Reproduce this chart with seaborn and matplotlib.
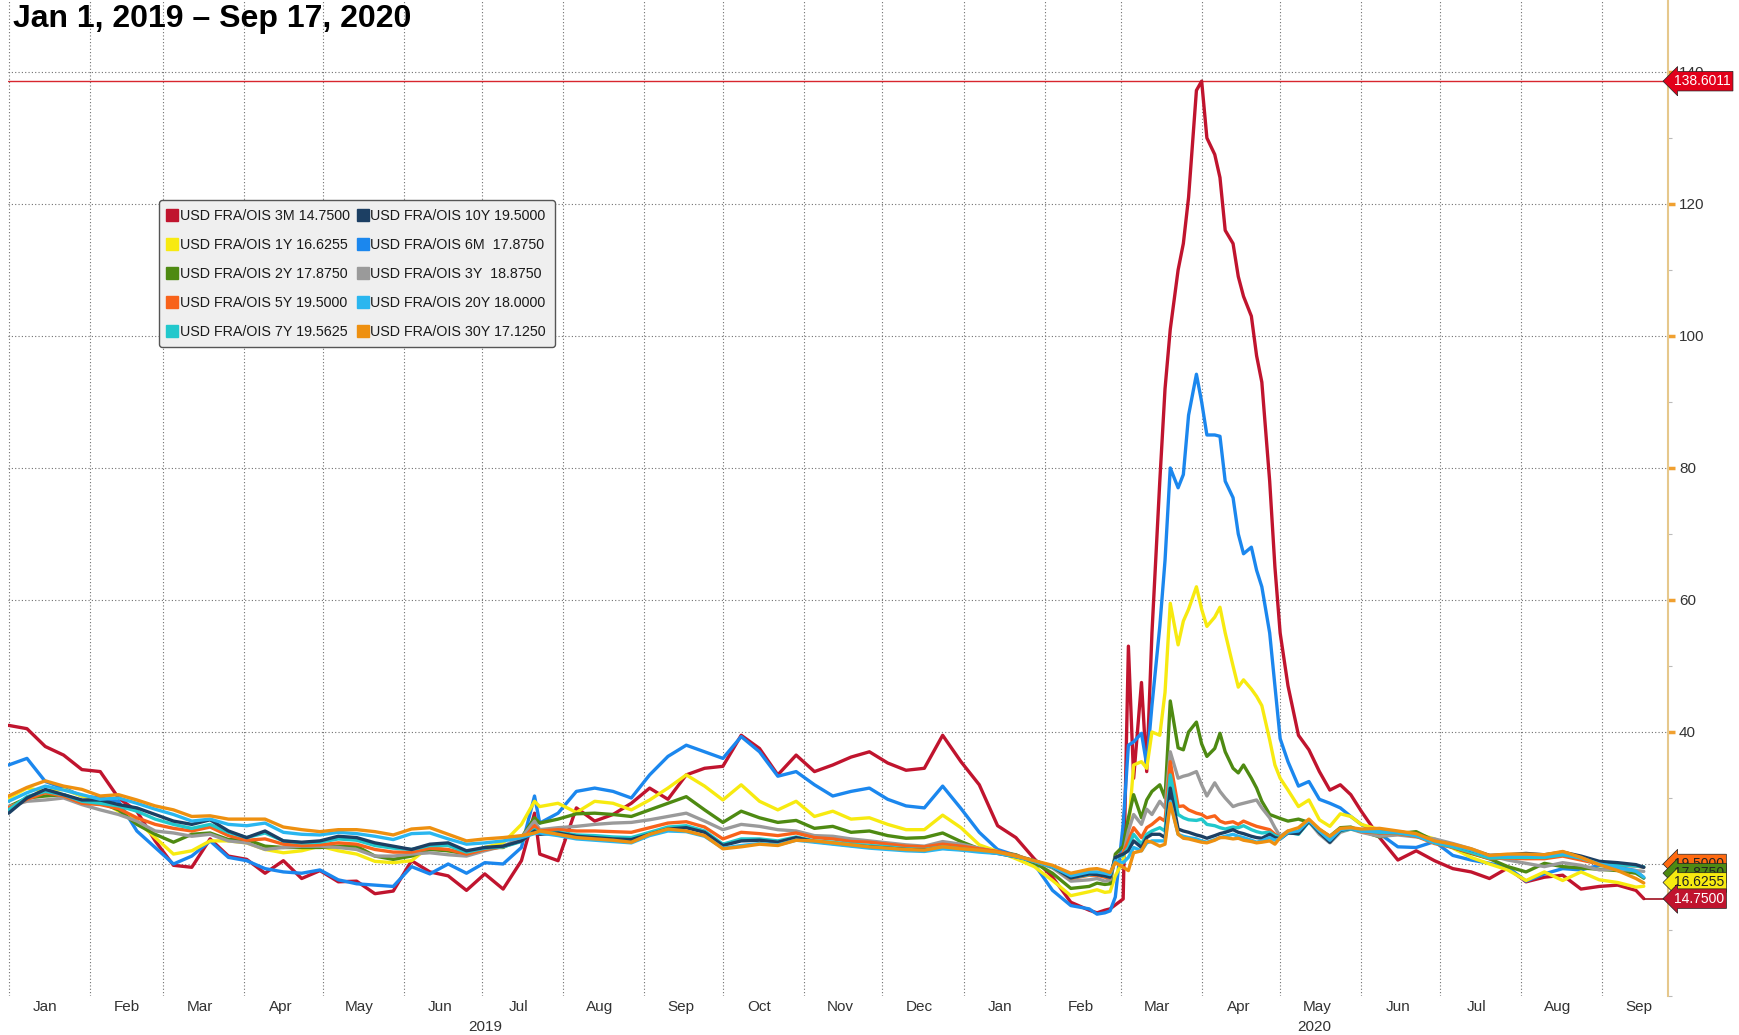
import matplotlib
matplotlib.use("Agg")
import matplotlib.dates as mdates
import matplotlib.pyplot as plt
import matplotlib.transforms as mtransforms
import pandas as pd
import seaborn as sns
from matplotlib.lines import Line2D

# sample dates (weekly, denser around the March 2020 spike)
DATES = [
    "2019-01-01", "2019-01-08", "2019-01-15", "2019-01-22", "2019-01-29",
    "2019-02-05", "2019-02-12", "2019-02-19", "2019-02-26",
    "2019-03-05", "2019-03-12", "2019-03-19", "2019-03-26",
    "2019-04-02", "2019-04-09", "2019-04-16", "2019-04-23", "2019-04-30",
    "2019-05-07", "2019-05-14", "2019-05-21", "2019-05-28",
    "2019-06-04", "2019-06-11", "2019-06-18", "2019-06-25",
    "2019-07-02", "2019-07-09", "2019-07-16", "2019-07-21", "2019-07-23", "2019-07-30",
    "2019-08-06", "2019-08-13", "2019-08-20", "2019-08-27",
    "2019-09-03", "2019-09-10", "2019-09-17", "2019-09-24",
    "2019-10-01", "2019-10-08", "2019-10-15", "2019-10-22", "2019-10-29",
    "2019-11-05", "2019-11-12", "2019-11-19", "2019-11-26",
    "2019-12-03", "2019-12-10", "2019-12-17", "2019-12-24", "2019-12-31",
    "2020-01-07", "2020-01-14", "2020-01-21", "2020-01-28",
    "2020-02-04", "2020-02-11", "2020-02-18",
    "2020-02-21", "2020-02-24", "2020-02-26", "2020-02-28",
    "2020-03-02", "2020-03-04", "2020-03-06", "2020-03-09", "2020-03-11", "2020-03-13",
    "2020-03-16", "2020-03-18", "2020-03-20", "2020-03-23", "2020-03-25", "2020-03-27", "2020-03-30",
    "2020-04-01", "2020-04-03", "2020-04-06", "2020-04-08", "2020-04-10", "2020-04-13",
    "2020-04-15", "2020-04-17", "2020-04-20", "2020-04-22", "2020-04-24", "2020-04-27", "2020-04-29",
    "2020-05-01", "2020-05-04", "2020-05-08", "2020-05-12", "2020-05-16", "2020-05-20",
    "2020-05-24", "2020-05-28",
    "2020-06-01", "2020-06-08", "2020-06-15", "2020-06-22", "2020-06-29",
    "2020-07-06", "2020-07-13", "2020-07-20", "2020-07-27",
    "2020-08-03", "2020-08-10", "2020-08-17", "2020-08-24", "2020-08-31",
    "2020-09-07", "2020-09-14", "2020-09-17",
]

FRA_3M = [
    41.0, 40.5, 37.8, 36.5, 34.3,
    34.0, 30.0, 28.0, 23.5,
    19.8, 19.5, 23.8, 21.2,
    20.7, 18.6, 20.5, 17.8, 19.0,
    17.3, 17.4, 15.5, 15.9,
    20.5, 18.8, 18.2, 16.0,
    18.5, 16.2, 20.5, 27.7, 21.5, 20.5,
    28.5, 26.5, 27.5, 29.2,
    31.5, 29.8, 33.5, 34.5,
    34.8, 39.5, 37.5, 33.5, 36.5,
    34.0, 35.0, 36.2, 37.0,
    35.3, 34.2, 34.5, 39.5, 35.5,
    32.0, 25.8, 24.0, 20.8,
    18.0, 14.2, 13.0,
    12.6, 13.0, 13.2, 13.8,
    14.7, 53.0, 33.0, 47.5, 34.0, 55.0, 78.0, 92.0, 101.0, 110.0, 114.0, 121.0, 137.2,
    138.6011, 130.0, 127.5, 124.0, 116.0, 114.0, 109.0, 106.0, 103.0, 97.0, 93.0, 78.0, 65.0,
    55.0, 47.0, 39.5, 37.3, 34.0, 31.2, 32.0, 30.5,
    28.0, 24.0, 20.6, 22.0, 20.5, 19.3, 18.8, 17.8, 19.4,
    17.3, 18.0, 18.3, 16.2, 16.6, 16.8, 16.0, 14.75,
]

FRA_6M = [
    35.0, 36.0, 32.5, 31.5, 30.3,
    30.0, 29.5, 25.0, 22.5,
    20.0, 21.2, 23.5, 21.0,
    20.5, 19.3, 18.8, 18.6, 19.1,
    17.6, 17.0, 16.8, 16.6,
    19.6, 18.5, 20.0, 18.6,
    20.2, 20.0, 22.5, 30.3, 26.2, 27.7,
    31.0, 31.5, 31.0, 30.0,
    33.5, 36.3, 38.0, 37.0,
    36.0, 39.3, 37.0, 33.3, 34.0,
    32.0, 30.3, 31.0, 31.5,
    29.8, 28.8, 28.5, 31.8, 28.4,
    24.8, 22.2, 21.3, 20.0,
    16.0, 13.7, 13.2,
    12.4, 12.6, 12.9, 15.0,
    26.0, 38.0, 38.5, 39.8, 35.0, 44.0, 56.0, 66.0, 80.0, 77.0, 79.0, 88.0, 94.2,
    90.0, 85.0, 85.0, 84.8, 78.0, 75.5, 70.0, 67.0, 68.0, 64.5, 62.0, 55.0, 47.0,
    39.0, 35.5, 31.8, 32.5, 29.8, 29.2, 28.5, 27.2,
    26.0, 24.6, 22.6, 22.5, 23.4, 21.3, 20.6, 20.1, 19.5,
    17.4, 18.5, 19.3, 19.1, 19.8, 19.5, 19.0, 17.875,
]

FRA_1Y = [
    30.0, 31.5, 31.0, 31.3, 30.3,
    29.7, 28.0, 26.5, 24.0,
    21.5, 22.0, 23.5, 23.5,
    23.2, 22.2, 21.7, 22.0, 22.7,
    22.0, 21.5, 20.4, 20.2,
    20.5, 22.7, 22.0, 21.7,
    22.5, 23.2, 26.0, 29.5, 28.7, 29.2,
    27.8, 29.5, 29.2, 28.2,
    29.7, 31.5, 33.5, 31.8,
    29.7, 32.0, 29.5, 28.2, 29.5,
    27.2, 28.0, 26.8, 27.0,
    26.0, 25.2, 25.2, 27.4, 25.5,
    22.9, 21.9, 20.8, 19.6,
    17.5, 15.2, 15.8,
    16.1, 15.7, 15.8, 18.2,
    20.5, 25.0, 35.0, 35.5, 34.5, 40.0, 39.5, 46.0, 59.5, 53.2, 56.8, 58.6, 62.0,
    58.6, 56.0, 57.4, 58.9, 55.0, 50.0, 46.8, 47.9, 46.5, 45.4, 44.0, 38.8, 35.0,
    33.0, 31.2, 28.7, 29.7, 26.7, 25.7, 27.6, 27.2,
    26.0, 25.2, 24.8, 24.6, 23.8, 22.4, 21.0, 20.0, 19.1,
    17.5, 18.8, 17.5, 18.8, 17.6, 17.2, 16.5, 16.6255,
]

FRA_2Y = [
    28.7, 30.0, 30.3, 30.5, 29.5,
    29.3, 28.2, 26.0, 24.5,
    23.3, 24.5, 24.7, 23.7,
    23.7, 22.7, 22.5, 22.5, 22.5,
    22.7, 22.7, 21.2, 20.7,
    21.2, 22.2, 22.0, 21.5,
    22.5, 22.5, 24.0, 27.0, 26.2, 26.8,
    27.6, 27.7, 27.5, 27.2,
    28.2, 29.2, 30.2, 28.2,
    26.3, 28.0, 27.0, 26.3, 26.6,
    25.4, 25.7, 24.8, 25.0,
    24.3, 23.9, 24.0, 24.7, 23.4,
    22.3, 21.8, 21.4, 20.2,
    18.6, 16.3, 16.6,
    17.1, 16.9, 17.0, 21.5,
    22.7, 27.0, 30.5, 27.0, 29.7, 31.0, 32.0, 30.0, 44.7, 37.6, 37.3, 40.0, 41.5,
    38.2, 36.3, 37.5, 39.8, 37.0, 34.5, 33.8, 35.0, 33.0, 31.5, 29.5, 27.5, 27.2,
    26.9, 26.5, 26.8, 26.3, 25.2, 24.2, 25.5, 25.6,
    25.0, 24.1, 24.6, 24.9, 23.5, 22.5, 21.6, 20.8, 19.6,
    18.8, 20.1, 19.6, 19.4, 19.2, 19.0, 18.6, 17.875,
]

FRA_3Y = [
    28.7, 29.5, 29.7, 30.0, 29.0,
    28.2, 27.5, 26.5, 25.0,
    24.7, 24.2, 24.5, 23.5,
    23.2, 22.2, 22.5, 22.7, 22.7,
    22.5, 22.2, 21.2, 21.2,
    21.5, 21.7, 21.4, 21.2,
    22.0, 22.7, 24.0, 26.5, 25.2, 25.5,
    25.7, 26.0, 26.2, 26.3,
    26.7, 27.2, 27.7, 26.5,
    25.2, 26.0, 25.7, 25.2, 25.0,
    24.3, 24.2, 23.8, 23.5,
    23.2, 22.9, 22.7, 23.4, 23.0,
    22.4, 21.8, 21.3, 20.4,
    19.4, 17.4, 17.6,
    17.8, 17.4, 17.6, 21.0,
    21.3, 25.0, 27.5, 26.0, 28.3, 27.5, 29.5, 28.5, 37.0, 33.0, 33.3, 33.5, 34.0,
    32.0, 30.3, 32.3, 31.0, 30.0, 28.7, 29.0, 29.2, 29.5, 29.7, 28.5, 27.0, 25.5,
    24.2, 25.0, 24.8, 26.4, 24.5, 23.2, 24.8, 25.3,
    24.8, 24.2, 24.4, 24.1, 23.8, 23.1, 22.3, 21.3, 20.6,
    20.1, 19.6, 20.2, 19.8, 19.1, 19.2, 19.0, 18.875,
]

FRA_5Y = [
    28.5, 29.8, 30.8, 30.3, 29.2,
    29.0, 28.4, 27.0, 26.0,
    25.4, 25.0, 25.6, 24.3,
    23.6, 23.8, 23.0, 22.8, 22.9,
    23.2, 23.0, 22.2, 21.8,
    21.8, 22.4, 22.2, 21.5,
    22.2, 22.6, 23.5, 25.8, 25.0, 25.2,
    25.0, 25.0, 24.9, 24.8,
    25.5, 26.2, 26.4, 25.6,
    23.8, 24.8, 24.6, 24.3, 24.7,
    24.0, 23.8, 23.4, 23.3,
    23.0, 22.7, 22.6, 23.0, 22.7,
    22.3, 21.9, 21.3, 20.5,
    19.5, 17.8, 18.3,
    18.3, 18.0, 17.9, 21.0,
    21.6, 23.5, 25.5, 24.0, 25.5, 26.0, 27.0, 26.5, 35.5, 28.7, 28.8, 28.2, 27.7,
    27.5, 27.0, 27.3, 26.5, 26.2, 26.4, 26.0, 26.5, 26.0, 25.7, 25.5, 25.2, 24.5,
    24.0, 24.9, 24.6, 26.5, 24.8, 23.5, 25.0, 25.4,
    24.9, 24.7, 24.6, 24.2, 23.1, 22.5, 21.7, 20.8, 20.9,
    20.8, 20.8, 21.2, 20.6, 20.0, 19.8, 19.7, 19.5,
]

FRA_7Y = [
    28.2, 30.2, 31.0, 30.5, 29.5,
    29.2, 28.8, 28.0, 26.8,
    26.0, 25.4, 26.0, 24.8,
    24.0, 24.7, 23.5, 23.2, 23.3,
    23.8, 23.6, 22.8, 22.4,
    22.2, 22.8, 22.8, 21.8,
    22.4, 22.6, 23.4, 25.2, 24.6, 24.8,
    24.4, 24.3, 24.1, 24.0,
    24.8, 25.6, 25.8, 25.0,
    23.0, 23.8, 23.8, 23.5, 24.1,
    23.5, 23.3, 23.0, 22.8,
    22.6, 22.3, 22.2, 22.6, 22.3,
    22.0, 21.7, 21.2, 20.5,
    19.5, 17.9, 18.4,
    18.5, 18.2, 18.0, 21.0,
    21.3, 22.5, 24.5, 23.0, 24.5, 25.0, 25.5, 25.0, 33.5, 27.5, 27.0, 26.7, 26.6,
    26.8, 26.0, 25.8, 25.5, 25.3, 25.6, 25.5, 25.8, 25.2, 24.9, 24.7, 24.8, 24.3,
    24.0, 24.8, 24.5, 26.4, 24.8, 23.4, 25.0, 25.3,
    25.0, 24.8, 24.7, 24.3, 23.2, 22.6, 21.8, 20.9, 21.0,
    21.0, 21.0, 21.4, 20.9, 20.1, 19.9, 19.7, 19.5625,
]

FRA_10Y = [
    27.7, 30.0, 31.3, 30.5, 29.7,
    29.7, 29.0, 28.5, 27.5,
    26.5, 26.0, 26.7, 25.0,
    24.0, 25.0, 23.5, 23.3, 23.5,
    24.2, 24.0, 23.2, 22.7,
    22.2, 23.0, 23.2, 22.0,
    22.5, 22.7, 23.5, 25.0, 24.5, 24.7,
    24.2, 24.0, 23.8, 23.7,
    24.5, 25.3, 25.5, 24.8,
    22.8, 23.5, 23.6, 23.3, 24.0,
    23.4, 23.1, 22.8, 22.6,
    22.4, 22.2, 22.1, 22.4, 22.2,
    22.0, 21.6, 21.1, 20.5,
    19.6, 17.9, 18.5,
    18.4, 18.2, 18.0, 21.0,
    21.5, 22.0, 23.5, 22.5, 24.0, 24.5, 24.5, 24.0, 31.5, 25.3, 25.0, 24.8, 24.4,
    24.2, 23.9, 24.3, 24.6, 24.8, 25.2, 24.8, 24.6, 24.2, 24.0, 23.9, 24.5, 24.0,
    23.8, 24.7, 24.6, 26.5, 24.8, 23.3, 25.1, 25.4,
    25.1, 25.0, 24.9, 24.5, 23.4, 22.9, 22.1, 21.3, 21.4,
    21.6, 21.4, 21.8, 21.2, 20.4, 20.2, 19.9, 19.5,
]

FRA_20Y = [
    29.5, 30.8, 31.8, 31.2, 30.5,
    29.8, 30.0, 29.2, 28.3,
    27.5, 26.5, 26.8, 26.0,
    25.8, 26.2, 24.8, 24.5, 24.4,
    24.8, 24.6, 24.2, 23.7,
    24.6, 24.7, 23.8, 23.0,
    23.2, 23.5, 24.0, 24.6, 24.7, 24.3,
    23.8, 23.6, 23.4, 23.2,
    24.3, 25.0, 24.9, 24.2,
    22.4, 22.8, 23.1, 22.9, 23.6,
    23.3, 23.0, 22.7, 22.4,
    22.2, 22.0, 21.9, 22.3, 22.1,
    21.8, 21.6, 21.1, 20.4,
    19.6, 18.2, 18.8,
    18.8, 18.6, 18.4, 20.5,
    20.2, 21.0, 22.5, 22.0, 23.2, 23.5, 23.5, 23.5, 29.5, 24.5, 24.2, 24.0, 23.8,
    23.5, 23.3, 23.7, 24.0, 24.2, 24.5, 24.2, 24.0, 23.6, 23.3, 23.5, 24.0, 23.6,
    23.8, 24.8, 25.0, 26.6, 25.0, 23.6, 25.2, 25.4,
    25.0, 24.9, 24.8, 24.3, 23.3, 22.8, 22.1, 21.2, 21.2,
    21.3, 21.2, 21.6, 20.9, 20.0, 19.5, 18.9, 18.0,
]

FRA_30Y = [
    30.3, 31.6, 32.6, 31.8, 31.3,
    30.3, 30.5, 29.7, 28.8,
    28.2, 27.2, 27.3, 26.8,
    26.8, 26.8, 25.6, 25.2, 24.9,
    25.2, 25.2, 24.9, 24.4,
    25.3, 25.5, 24.5, 23.5,
    23.8, 24.0, 24.3, 24.7, 25.0, 24.5,
    24.0, 23.8, 23.6, 23.3,
    24.5, 25.3, 25.0, 24.3,
    22.3, 22.6, 23.0, 22.8, 23.6,
    23.5, 23.2, 22.9, 22.6,
    22.4, 22.2, 22.1, 22.6, 22.3,
    22.1, 21.8, 21.2, 20.5,
    19.8, 18.6, 19.2,
    19.3, 19.0, 18.7, 20.2,
    19.5, 19.0, 21.7, 22.0, 23.5, 23.3, 22.7, 23.0, 29.2, 24.5, 23.9, 23.8, 23.5,
    23.3, 23.2, 23.6, 24.0, 24.0, 23.8, 23.9, 23.6, 23.4, 23.2, 23.3, 23.5, 23.0,
    24.0, 25.0, 25.5, 26.8, 25.3, 24.2, 25.4, 25.5,
    25.3, 25.4, 25.0, 24.6, 23.5, 23.0, 22.3, 21.3, 21.5,
    21.5, 21.4, 21.9, 21.0, 19.9, 19.0, 17.8, 17.125,
]

TENORS = ["3M", "6M", "1Y", "2Y", "3Y", "5Y", "7Y", "10Y", "20Y", "30Y"]
LEGEND_ORDER = ["3M", "1Y", "2Y", "5Y", "7Y", "10Y", "6M", "3Y", "20Y", "30Y"]
LEGEND_LABELS = [
    "USD FRA/OIS 3M 14.7500", "USD FRA/OIS 1Y 16.6255", "USD FRA/OIS 2Y 17.8750",
    "USD FRA/OIS 5Y 19.5000", "USD FRA/OIS 7Y 19.5625", "USD FRA/OIS 10Y 19.5000",
    "USD FRA/OIS 6M  17.8750", "USD FRA/OIS 3Y  18.8750", "USD FRA/OIS 20Y 18.0000",
    "USD FRA/OIS 30Y 17.1250",
]
YEAR_MIDS = ["2019-07-02", "2020-05-14"]
YEARS = ["2019", "2020"]
TITLE = "Jan 1, 2019 \u2013 Sep 17, 2020"

COLORS = {
    "3M": "#c0142e", "6M": "#1b87ee", "1Y": "#f7ea10", "2Y": "#4e8a12",
    "3Y": "#9a9a9a", "5Y": "#f8621a", "7Y": "#22c8cc", "10Y": "#1c3f63",
    "20Y": "#2ab6ef", "30Y": "#ee9010",
}

sns.set_style("white")
FONT = ["Liberation Sans", "DejaVu Sans"]
plt.rcParams["font.family"] = FONT

wide = pd.DataFrame({
    "date": pd.to_datetime(DATES),
    "3M": FRA_3M, "6M": FRA_6M, "1Y": FRA_1Y, "2Y": FRA_2Y, "3Y": FRA_3Y,
    "5Y": FRA_5Y, "7Y": FRA_7Y, "10Y": FRA_10Y, "20Y": FRA_20Y, "30Y": FRA_30Y,
})
long = wide.melt(id_vars="date", var_name="tenor", value_name="spread")

fig = plt.figure(figsize=(17.39, 10.35), dpi=100)
ax = fig.add_axes([8 / 1739, 1 - 996 / 1035, 1660 / 1739, 996 / 1035])
ax.set_axisbelow(True)

sns.lineplot(data=long, x="date", y="spread", hue="tenor", hue_order=TENORS,
             palette=COLORS, linewidth=2.4, legend=False, estimator=None, ax=ax)

XMIN = pd.Timestamp("2018-12-31 18:00")
XMAX = pd.Timestamp("2020-09-26 06:00")

# max line and last-value connector for the 3M series
peak = max(FRA_3M)
ax.axhline(peak, color="#d8262e", lw=1.0, zorder=1.8)
ax.hlines(FRA_3M[-1], pd.Timestamp(DATES[-1]), XMAX, color="#a01020", lw=1.2)

ax.set_xlim(XMIN, XMAX)
ax.set_ylim(0, 150.9)
ax.set_xlabel("")
ax.set_ylabel("")
for side in ("left", "top", "bottom"):
    ax.spines[side].set_visible(False)
ax.spines["right"].set_color("#e6c88c")
ax.spines["right"].set_linewidth(1.5)

ax.yaxis.tick_right()
ax.set_yticks(range(20, 141, 20))
ax.set_yticks(range(0, 150, 10), minor=True)
ax.tick_params(axis="y", which="major", direction="out", length=5, width=2.5,
               color="#f0a030", labelsize=11, labelcolor="#333333", pad=3)
ax.tick_params(axis="y", which="minor", direction="out", length=3, width=0.8,
               color="#bbbbbb")

ax.xaxis.set_major_locator(mdates.MonthLocator(bymonthday=15))
ax.xaxis.set_major_formatter(mdates.DateFormatter("%b"))
ax.xaxis.set_minor_locator(mdates.MonthLocator())
ax.tick_params(axis="x", which="both", length=0, labelsize=11,
               labelcolor="#333333", pad=3)

dots = (0, (1, 2))
ax.grid(axis="y", which="major", color="#707070", linestyle=dots, linewidth=0.8)
ax.grid(axis="x", which="minor", color="#707070", linestyle=dots, linewidth=0.8)
ax.grid(axis="x", which="major", visible=False)

trans = mtransforms.blended_transform_factory(ax.transData, ax.transAxes)
for mid, year in zip(YEAR_MIDS, YEARS):
    ax.text(pd.Timestamp(mid), -0.031, year, transform=trans, ha="center",
            va="center", fontsize=11, color="#333333")


def price_tag(y, text, face, ink):
    ax.annotate(text, xy=(1, y), xycoords=("axes fraction", "data"),
                xytext=(4, 0), textcoords="offset points", ha="left", va="center",
                fontsize=10, color=ink, annotation_clip=False, zorder=20,
                bbox=dict(boxstyle="larrow,pad=0.2", fc=face, ec="#222222", lw=0.5))


price_tag(peak, f"{peak:.4f}", "#e2001a", "white")
price_tag(20.0, f"{FRA_5Y[-1]:.4f}", "#ff6a10", "#222222")
price_tag(18.6, f"{FRA_2Y[-1]:.4f}", "#4e8a12", "#222222")
price_tag(17.2, f"{FRA_1Y[-1]:.4f}", "#f7ea10", "#222222")
price_tag(FRA_3M[-1], f"{FRA_3M[-1]:.4f}", "#c0142e", "white")

handles = [Line2D([], [], marker="s", markersize=8, linestyle="none",
                  color=COLORS[t]) for t in LEGEND_ORDER]
leg = ax.legend(handles, LEGEND_LABELS, ncol=2, loc="upper left",
                bbox_to_anchor=(159 / 1739, 1 - 200 / 1035),
                bbox_transform=fig.transFigure, frameon=True, fancybox=True,
                facecolor="#efefef", edgecolor="#555555", framealpha=1,
                prop={"family": FONT, "size": 10.3}, handlelength=0.6,
                handletextpad=0.25, columnspacing=0.6, labelspacing=1.05,
                borderpad=0.6, borderaxespad=0)
leg.get_frame().set_linewidth(1.0)
leg.set_zorder(15)
for txt in leg.get_texts():
    txt.set_color("#1a1a1a")

fig.text(13 / 1739, 1 - 19 / 1035, TITLE, fontsize=23, fontweight="bold",
         family=FONT, ha="left", va="center", color="black")

fig.savefig("out.png", dpi=100)
